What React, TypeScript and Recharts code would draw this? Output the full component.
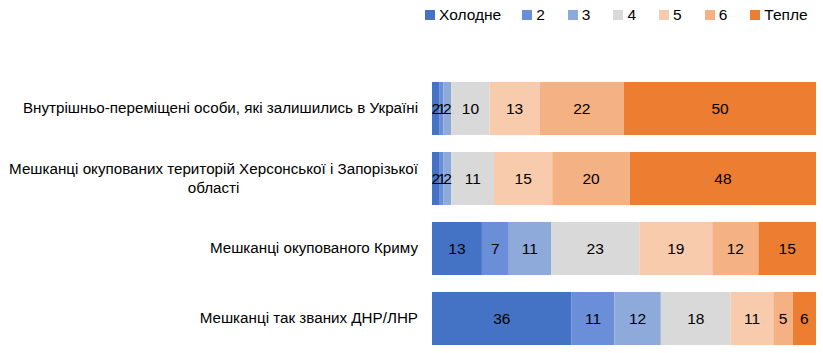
import React from 'react';
import { BarChart, Bar, XAxis, YAxis, LabelList } from 'recharts';

const categories = [
  'Внутрішньо-переміщені особи, які залишились в Україні',
  'Мешканці окупованих територій Херсонської і Запорізької області',
  'Мешканці окупованого Криму',
  'Мешканці так званих ДНР/ЛНР',
];

const seriesNames = ['Холодне', '2', '3', '4', '5', '6', 'Тепле'];
const seriesColors = ['#4472C4', '#6A8FD8', '#8EAADB', '#D9D9D9', '#F8CBAD', '#F4B183', '#ED7D31'];

const cold = [2, 2, 13, 36];
const s2 = [1, 1, 7, 11];
const s3 = [2, 2, 11, 12];
const s4 = [10, 11, 23, 18];
const s5 = [13, 15, 19, 11];
const s6 = [22, 20, 12, 5];
const warm = [50, 48, 15, 6];

const seriesValues = [cold, s2, s3, s4, s5, s6, warm];
const keys = seriesNames.map((_, i) => `s${i}`);

const data = categories.map((name, ci) => {
  const row: any = { name };
  keys.forEach((k, si) => {
    row[k] = seriesValues[si][ci];
  });
  return row;
});

const FONT = '"Liberation Sans", Arial, sans-serif';
const TICK_SIZE = 15.2;
const MAX_W = 418;

let ctx: CanvasRenderingContext2D | null = null;
const measure = (s: string) => {
  if (!ctx) ctx = document.createElement('canvas').getContext('2d');
  if (!ctx) return s.length * 7.5;
  ctx.font = `${TICK_SIZE}px ${FONT}`;
  return ctx.measureText(s).width;
};

const wrap = (s: string) => {
  const words = s.split(' ');
  const lines: string[] = [];
  let cur = '';
  words.forEach((w) => {
    const next = cur ? cur + ' ' + w : w;
    if (cur && measure(next) > MAX_W) {
      lines.push(cur);
      cur = w;
    } else cur = next;
  });
  if (cur) lines.push(cur);
  return lines;
};

// right-aligned block, lines centered inside it (like Excel)
const CategoryTick = ({ x, y, payload }: any) => {
  const lines = wrap(payload.value);
  const blockW = Math.max(...lines.map(measure));
  const right = x - 6;
  const cx = right - blockW / 2;
  const lh = 19;
  const y0 = y - ((lines.length - 1) * lh) / 2;
  return (
    <text
      textAnchor="middle"
      fontSize={TICK_SIZE}
      fontFamily={FONT}
      fill="#000"
    >
      {lines.map((l, i) => (
        <tspan key={i} x={cx} y={y0 + i * lh} dy="0.35em">
          {l}
        </tspan>
      ))}
    </text>
  );
};

const LegendBox = () => (
  <div
    style={{
      position: 'absolute',
      left: 425,
      top: 6,
      display: 'flex',
      fontFamily: FONT,
      fontSize: 15.5,
      color: '#000',
      alignItems: 'center',
    }}
  >
    {seriesNames.map((n, i) => (
      <div key={n} style={{ display: 'flex', alignItems: 'center', marginRight: i === seriesNames.length - 1 ? 0 : n.length > 1 ? 21 : 23 }}>
        <span style={{ width: 10, height: 10, background: seriesColors[i], display: 'inline-block', marginRight: 4 }} />
        <span>{n}</span>
      </div>
    ))}
  </div>
);

export default function App() {
  return (
    <div style={{ position: 'absolute', left: 0, top: 0, width: 823, height: 353, background: '#fff' }}>
      <BarChart
        width={823}
        height={353}
        data={data}
        layout="vertical"
        stackOffset="expand"
        barSize={53}
        margin={{ top: 73, right: 7, left: 0, bottom: 0 }}
      >
        <XAxis type="number" hide domain={[0, 1]} />
        <YAxis
          type="category"
          dataKey="name"
          width={432}
          axisLine={false}
          tickLine={false}
          tick={<CategoryTick />}
          interval={0}
        />
        {keys.map((k, i) => (
          <Bar key={k} dataKey={k} name={seriesNames[i]} stackId="a" fill={seriesColors[i]} isAnimationActive={false}>
            <LabelList dataKey={k} position="center" fill="#000" fontSize={15.5} fontFamily={FONT} />
          </Bar>
        ))}
      </BarChart>
      <LegendBox />
    </div>
  );
}
